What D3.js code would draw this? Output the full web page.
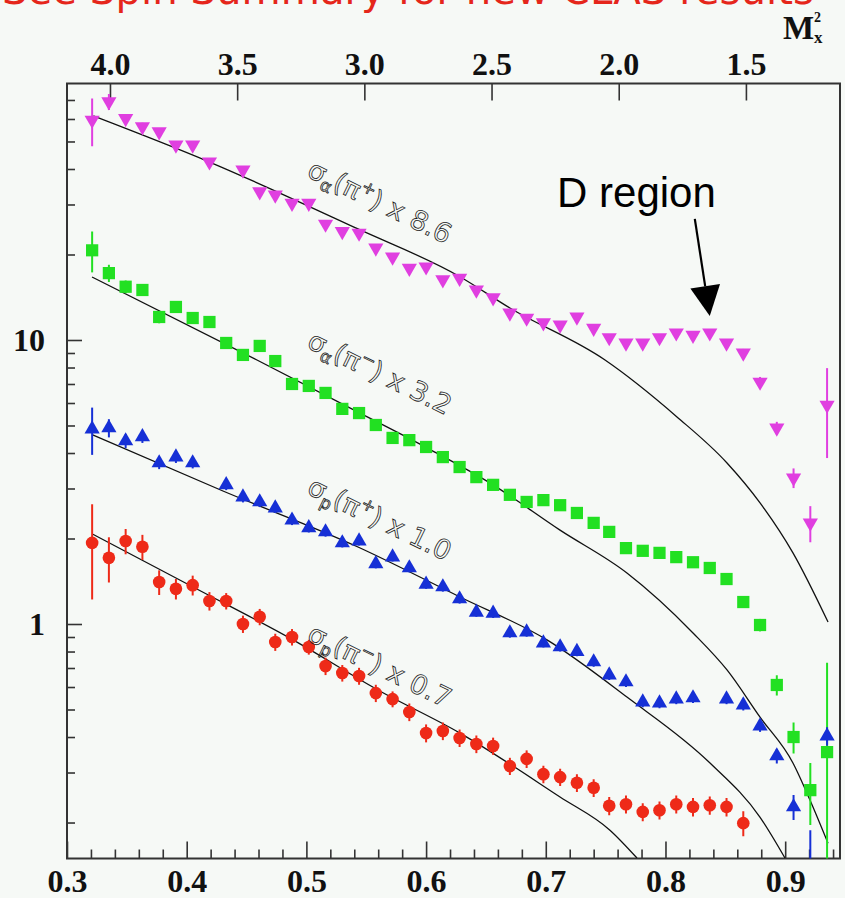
<!DOCTYPE html>
<html>
<head>
<meta charset="utf-8">
<script src="https://cdnjs.cloudflare.com/ajax/libs/d3/7.8.5/d3.min.js"></script>
<style>
    html, body { margin: 0; padding: 0; background: #f6f9f6; overflow: hidden; }
    svg { display: block; }
</style>
</head>
<body>
<div id="chart"></div>
<script>
// x_B bin centres (shared by all four series)
const xBins = [0.321, 0.335, 0.349, 0.363, 0.377, 0.391, 0.405, 0.419, 0.433, 0.447,
    0.461, 0.474, 0.488, 0.502, 0.516, 0.530, 0.544, 0.558, 0.572, 0.586,
    0.600, 0.614, 0.628, 0.642, 0.656, 0.670, 0.684, 0.698, 0.712, 0.726,
    0.740, 0.753, 0.767, 0.781, 0.795, 0.809, 0.823, 0.837, 0.851, 0.865,
    0.879, 0.893, 0.907, 0.921, 0.935]

// sigma_alpha(pi+) x 8.6
const magentaY = [59.5, 69.0, 60.3, 56.4, 54.1, 48.6, 48.6, 42.4, null, 39.7,
    33.3, 32.4, 30.3, 30.3, 25.6, 24.1, 23.8, 21.1, 19.6, 17.9,
    18.1, 16.3, 16.5, 15.0, 14.1, 12.45, 11.95, 11.5, 11.3, 12.05,
    11.0, 10.2, 9.76, 9.76, 10.2, 10.6, 10.4, 10.6, 9.76, 9.0,
    7.11, 4.90, 3.27, 2.27, 5.90]
const magentaErr = [11.4, 4.5, 2, 1.8, 1.7, 1.5, 1.5, 1.2, null, 1.1,
    0.9, 0.9, 0.8, 0.8, 0.7, 0.6, 0.6, 0.55, 0.5, 0.45,
    0.45, 0.4, 0.4, 0.35, 0.35, 0.3, 0.3, 0.3, 0.3, 0.3,
    0.3, 0.3, 0.3, 0.3, 0.3, 0.3, 0.3, 0.3, 0.3, 0.3,
    0.3, 0.25, 0.26, 0.33, 2.06]

// sigma_alpha(pi-) x 3.2
const greenY = [20.7, 17.2, 15.4, 15.0, 12.05, 13.07, 11.95, 11.57, 9.76, 8.86,
    9.53, 8.43, 7.00, 6.89, 6.51, 5.72, 5.53, 5.02, 4.52, 4.44,
    4.20, 3.87, 3.57, 3.29, 3.09, 2.85, 2.69, 2.73, 2.62, 2.46,
    2.27, 2.11, 1.85, 1.81, 1.78, 1.72, 1.65, 1.575, 1.44, 1.195,
    0.992, 0.61, 0.40, 0.26, 0.354]
const greenErr = [3.4, 1.2, 0.8, 0.7, 0.6, 0.6, 0.5, 0.5, 0.4, 0.35,
    0.35, 0.3, 0.25, 0.25, 0.22, 0.2, 0.18, 0.16, 0.15, 0.14,
    0.13, 0.12, 0.11, 0.1, 0.09, 0.08, 0.08, 0.08, 0.07, 0.07,
    0.06, 0.06, 0.05, 0.05, 0.05, 0.05, 0.05, 0.05, 0.05, 0.05,
    0.05, 0.05, 0.05, 0.064, 0.376]

// sigma_p(pi+) x 1.0
const blueY = [4.86, 4.90, 4.41, 4.56, 3.69, 3.87, 3.69, null, 3.09, 2.80,
    2.69, 2.56, 2.32, 2.18, 2.11, 1.93, 1.96, 1.63, 1.72, 1.575,
    1.38, 1.35, 1.225, 1.10, 1.09, 0.93, 0.937, 0.857, 0.83, 0.80,
    0.735, 0.661, 0.625, 0.531, 0.527, 0.544, 0.549, null, 0.544, 0.518,
    0.437, 0.343, 0.227, 0.12, 0.403]
const blueErr = [0.92, 0.36, 0.25, 0.22, 0.18, 0.18, 0.16, null, 0.13, 0.12,
    0.11, 0.1, 0.09, 0.08, 0.08, 0.07, 0.07, 0.06, 0.06, 0.055,
    0.05, 0.05, 0.045, 0.04, 0.04, 0.035, 0.035, 0.03, 0.03, 0.03,
    0.028, 0.026, 0.025, 0.022, 0.022, 0.022, 0.022, null, 0.022, 0.022,
    0.02, 0.02, 0.023, 0.068, 0.03]

// sigma_p(pi-) x 0.7
const redY = [1.93, 1.71, 1.96, 1.87, 1.405, 1.33, 1.37, 1.205, 1.205, 1.00,
    1.06, 0.864, 0.90, 0.83, 0.711, 0.672, 0.656, 0.571, 0.544, 0.49,
    0.413, 0.42, 0.397, 0.378, 0.372, 0.316, 0.335, 0.296, 0.289, 0.276,
    0.265, 0.229, 0.232, 0.218, 0.221, 0.232, 0.227, 0.23, 0.227, 0.199,
    null, null, null, null, null]
const redErr = [0.71, 0.31, 0.2, 0.19, 0.14, 0.11, 0.11, 0.09, 0.08, 0.07,
    0.07, 0.06, 0.06, 0.05, 0.05, 0.045, 0.045, 0.04, 0.035, 0.035,
    0.03, 0.03, 0.028, 0.027, 0.026, 0.022, 0.024, 0.021, 0.02, 0.02,
    0.019, 0.017, 0.017, 0.016, 0.016, 0.017, 0.017, 0.017, 0.017, 0.02,
    null, null, null, null, null]

// fit curves
const magentaFitX = [0.322, 0.4186, 0.5431, 0.6283, 0.670, 0.7495, 0.8096, 0.8514, 0.879, 0.9065, 0.9358]
const magentaFitY = [61.5, 42.4, 24.6, 16.7, 12.96, 8.50, 5.36, 3.69, 2.67, 1.78, 1.016]
const greenFitX = [0.3209, 0.4587, 0.5448, 0.6008, 0.6559, 0.7119, 0.7678, 0.823, 0.8514, 0.879, 0.9065, 0.9207, 0.9358]
const greenFitY = [16.67, 8.50, 5.53, 4.17, 3.09, 2.14, 1.512, 0.93, 0.689, 0.470, 0.324, 0.240, 0.169]
const blueFitX = [0.3217, 0.4303, 0.5431, 0.6283, 0.701, 0.7678, 0.8372, 0.8789, 0.8998]
const blueFitY = [4.63, 2.94, 1.867, 1.245, 0.879, 0.553, 0.324, 0.209, 0.150]
const redFitX = [0.3217, 0.4053, 0.4888, 0.559, 0.6283, 0.7119, 0.7536, 0.7762]
const redFitY = [2.07, 1.35, 0.879, 0.588, 0.413, 0.246, 0.188, 0.150]

// curve labels
const labelSub = ['α', 'α', 'p', 'p']
const labelCharge = ['+', '−', '+', '−']
const labelFactor = ['8.6', '3.2', '1.0', '0.7']
const labelAtY = [37.8, 9.45, 2.89, 0.878]

// axes
const xMajorTicks = [0.3, 0.4, 0.5, 0.6, 0.7, 0.8, 0.9]
const xMinorTicks = [0.32, 0.34, 0.36, 0.38, 0.42, 0.44, 0.46, 0.48, 0.52, 0.54, 0.56, 0.58,
    0.62, 0.64, 0.66, 0.68, 0.72, 0.74, 0.76, 0.78, 0.82, 0.84, 0.86, 0.88, 0.92, 0.94]
const yMajorTicks = [1, 10]
const yMinorTicks = [0.2, 0.3, 0.4, 0.5, 0.6, 0.7, 0.8, 0.9, 2, 3, 4, 5, 6, 7, 8, 9, 20, 30, 40, 50, 60, 70]
const mxTicks = [4.0, 3.5, 3.0, 2.5, 2.0, 1.5]
const mxTickAtX = [0.3359, 0.8672]   // x_B where M_x^2 = 4.0 and 1.5

const titleText = 'See Spin Summary for new CLAS results'

const createGraph = () => {
    const width = 845
    const height = 898
    const frame = { left: 67, right: 840, top: 83.5, bottom: 858.5 }
    const serif = '"Liberation Serif", "Times New Roman", serif'

    const xScale = d3.scaleLinear().domain([0.3, 0.9458]).range([frame.left, frame.right])
    const yScale = d3.scaleLog().domain([0.1494, 80]).range([frame.bottom, frame.top])
    const mxScale = d3.scaleLinear().domain([mxTicks[0], mxTicks[mxTicks.length - 1]])
        .range([xScale(mxTickAtX[0]), xScale(mxTickAtX[1])])

    const svg = d3.select('#chart')
        .append('svg')
        .attr('width', width)
        .attr('height', height)

    svg.append('rect').attr('width', width).attr('height', height).attr('fill', '#f6f9f6')

    // red title, cut off at the top edge
    svg.append('text')
        .attr('x', 2)
        .attr('y', 4)
        .attr('textLength', 812)
        .attr('lengthAdjust', 'spacingAndGlyphs')
        .style('font-family', '"DejaVu Sans", sans-serif')
        .style('font-size', '40px')
        .style('fill', '#e5261b')
        .text(titleText)

    svg.append('defs').append('clipPath').attr('id', 'plot-clip')
        .append('rect')
        .attr('x', frame.left).attr('y', frame.top)
        .attr('width', frame.right - frame.left).attr('height', frame.bottom - frame.top)

    const styleAxis = (g, withText) => {
        g.select('.domain').remove()
        g.selectAll('.tick line').attr('stroke', '#333').attr('stroke-width', 1.6)
        g.selectAll('.tick text')
            .style('font-family', serif)
            .style('font-weight', 'bold')
            .style('font-size', withText ? '32px' : '0px')
            .style('fill', '#111')
    }

    // bottom axis
    svg.append('g')
        .attr('transform', `translate(0, ${frame.bottom})`)
        .call(d3.axisBottom(xScale).tickValues(xMinorTicks).tickSize(-9).tickFormat(''))
        .call((g) => styleAxis(g, false))
    svg.append('g')
        .attr('transform', `translate(0, ${frame.bottom})`)
        .call(d3.axisBottom(xScale).tickValues(xMajorTicks).tickSize(-17).tickPadding(11).tickFormat(d3.format('.1f')))
        .call((g) => styleAxis(g, true))

    // left axis
    svg.append('g')
        .attr('transform', `translate(${frame.left}, 0)`)
        .call(d3.axisLeft(yScale).tickValues(yMinorTicks).tickSize(-8).tickFormat(''))
        .call((g) => styleAxis(g, false))
    svg.append('g')
        .attr('transform', `translate(${frame.left}, 0)`)
        .call(d3.axisLeft(yScale).tickValues(yMajorTicks).tickSize(-15).tickPadding(22).tickFormat(d3.format('d')))
        .call((g) => styleAxis(g, true))

    // top axis, M_x^2
    svg.append('g')
        .attr('transform', `translate(0, ${frame.top})`)
        .call(d3.axisTop(mxScale).tickValues(mxTicks).tickSize(-17).tickPadding(9).tickFormat(d3.format('.1f')))
        .call((g) => styleAxis(g, true))

    const mx = svg.append('g').attr('transform', `translate(${frame.right - 57}, 39)`)
        .style('font-family', serif).style('font-weight', 'bold').style('fill', '#111')
    mx.append('text').style('font-size', '33px').text('M')
    mx.append('text').attr('x', 31).attr('y', -17).style('font-size', '14px').text('2')
    mx.append('text').attr('x', 31).attr('y', 4).style('font-size', '17px').text('x')

    svg.append('rect')
        .attr('x', frame.left).attr('y', frame.top)
        .attr('width', frame.right - frame.left).attr('height', frame.bottom - frame.top)
        .attr('fill', 'none').attr('stroke', '#333').attr('stroke-width', 2)

    const plot = svg.append('g').attr('clip-path', 'url(#plot-clip)')

    // fit curves
    const fits = [
        [magentaFitX, magentaFitY],
        [greenFitX, greenFitY],
        [blueFitX, blueFitY],
        [redFitX, redFitY]
    ]
    const line = d3.line()
        .x((d) => xScale(d[0]))
        .y((d) => yScale(d[1]))
        .curve(d3.curveMonotoneX)
    fits.forEach(([xs, ys]) => {
        plot.append('path')
            .datum(xs.map((x, i) => [x, ys[i]]))
            .attr('d', line)
            .attr('fill', 'none')
            .attr('stroke', '#111')
            .attr('stroke-width', 1.3)
    })

    // data points with error bars
    const series = [
        { y: magentaY, err: magentaErr, color: '#e03fe0', symbol: d3.symbolTriangle, size: 100, rotate: 180 },
        { y: greenY, err: greenErr, color: '#22e022', symbol: d3.symbolSquare, size: 150, rotate: 0 },
        { y: blueY, err: blueErr, color: '#1630d6', symbol: d3.symbolTriangle, size: 100, rotate: 0 },
        { y: redY, err: redErr, color: '#ee2a18', symbol: d3.symbolCircle, size: 125, rotate: 0 }
    ]
    const yFloor = yScale.domain()[0] * 0.5

    series.forEach((s) => {
        const pts = xBins.map((x, i) => ({ x: x, y: s.y[i], e: s.err[i] })).filter((d) => d.y !== null)
        const g = plot.append('g')

        g.selectAll('line')
            .data(pts)
            .enter()
            .append('line')
            .attr('x1', (d) => xScale(d.x))
            .attr('x2', (d) => xScale(d.x))
            .attr('y1', (d) => yScale(d.y + d.e))
            .attr('y2', (d) => yScale(Math.max(d.y - d.e, yFloor)))
            .attr('stroke', s.color)
            .attr('stroke-width', 2)

        g.selectAll('path')
            .data(pts)
            .enter()
            .append('path')
            .attr('d', d3.symbol().type(s.symbol).size(s.size))
            .attr('transform', (d) => `translate(${xScale(d.x)}, ${yScale(d.y)}) rotate(${s.rotate})`)
            .attr('fill', s.color)
    })

    // rotated curve labels
    labelFactor.forEach((f, i) => {
        const t = svg.append('text')
            .attr('transform', `translate(${xScale(0.4995)}, ${yScale(labelAtY[i])}) rotate(26)`)
            .style('font-family', '"DejaVu Sans", sans-serif')
            .style('font-size', '27px')
            .style('fill', 'none')
            .style('stroke', '#222')
            .style('stroke-width', 0.8)
        t.append('tspan').text('σ')
        t.append('tspan').attr('dy', 6).style('font-size', '17px').text(labelSub[i])
        t.append('tspan').attr('dy', -6).text('(π')
        t.append('tspan').attr('dy', -11).style('font-size', '17px').text(labelCharge[i])
        t.append('tspan').attr('dy', 11).text(`) x ${f}`)
    })

    // D region annotation
    const tail = [xScale(0.8245), yScale(26.7)]
    const tip = [xScale(0.837), yScale(12.15)]
    const ang = Math.atan2(tip[1] - tail[1], tip[0] - tail[0])
    const headLen = 30
    const headHalf = 15
    const base = [tip[0] - headLen * Math.cos(ang), tip[1] - headLen * Math.sin(ang)]
    svg.append('line')
        .attr('x1', tail[0]).attr('y1', tail[1])
        .attr('x2', base[0]).attr('y2', base[1])
        .attr('stroke', '#000').attr('stroke-width', 2.2)
    svg.append('path')
        .attr('d', d3.line()([
            tip,
            [base[0] + headHalf * Math.sin(ang), base[1] - headHalf * Math.cos(ang)],
            [base[0] - headHalf * Math.sin(ang), base[1] + headHalf * Math.cos(ang)]
        ]) + 'Z')
        .attr('fill', '#000')
    svg.append('text')
        .attr('x', xScale(0.7094))
        .attr('y', yScale(29.4))
        .style('font-family', '"Liberation Sans", Arial, sans-serif')
        .style('font-size', '42px')
        .style('fill', '#000')
        .text('D region')
}

createGraph()
</script>
</body>
</html>
